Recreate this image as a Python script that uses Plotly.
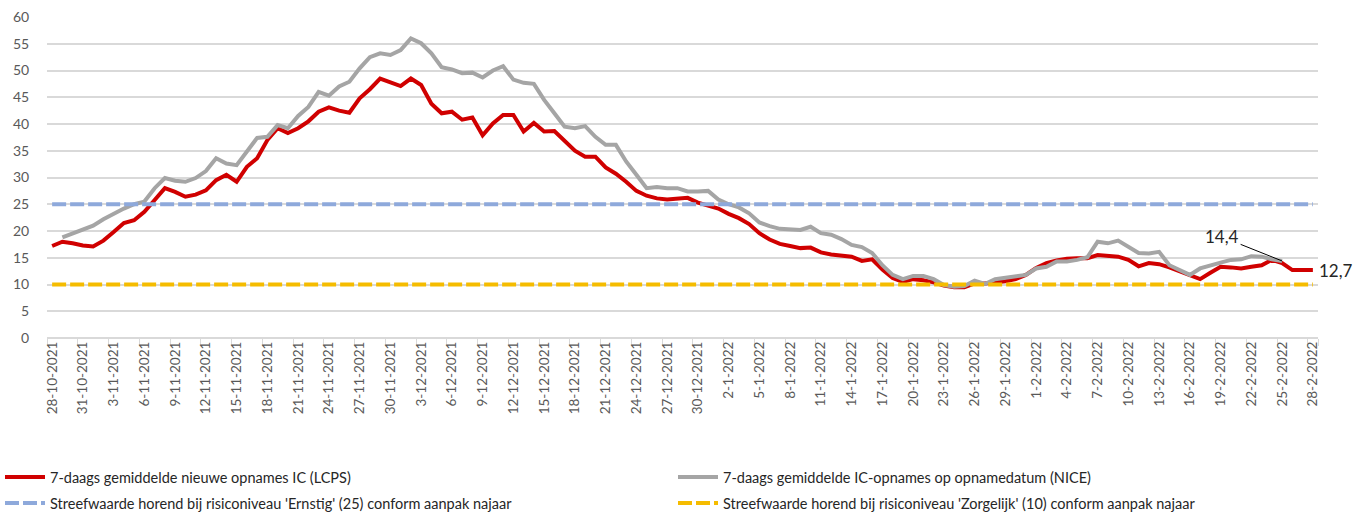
import datetime
import plotly.graph_objects as go

# ---- data ----
start = datetime.date(2021, 10, 28)
categories = [f"{d.day}-{d.month}-{d.year}" for d in
              (start + datetime.timedelta(days=i) for i in range(124))]
tick_labels = categories[::3]

lcps = [17.2, 18.0, 17.7, 17.3, 17.1, 18.2, 19.8, 21.5, 22.0, 23.6,
        25.8, 28.0, 27.3, 26.4, 26.8, 27.6, 29.5, 30.5, 29.2, 32.0,
        33.6, 37.0, 39.2, 38.3, 39.2, 40.5, 42.3, 43.1, 42.5, 42.1,
        44.8, 46.5, 48.5, 47.8, 47.1, 48.5, 47.3, 43.8, 42.0, 42.3,
        40.8, 41.2, 37.9, 40.1, 41.7, 41.7, 38.6, 40.2, 38.6, 38.7,
        36.8, 35.0, 33.9, 33.9, 31.9, 30.7, 29.2, 27.5, 26.6, 26.1,
        25.9, 26.0, 26.2, 25.3, 24.8, 24.2, 23.2, 22.4, 21.3, 19.6,
        18.4, 17.6, 17.2, 16.8, 16.9, 16.0, 15.6, 15.4, 15.2, 14.4,
        14.7, 12.8, 11.2, 10.5, 11.0, 10.8, 10.4, 9.8, 9.5, 9.5,
        10.2, 10.2, 10.4, 10.6, 11.0, 11.8, 13.1, 14.0, 14.5, 14.8,
        14.9, 14.9, 15.5, 15.4, 15.2, 14.6, 13.4, 14.0, 13.8, 13.2,
        12.4, 11.6, 11.0, 12.2, 13.3, 13.2, 13.0, 13.3, 13.6, 14.6,
        14.0, 12.7, 12.7, 12.7]

nice = [None, 18.8, 19.5, 20.3, 21.0, 22.2, 23.3, 24.2, 25.0, 25.5,
        28.0, 29.9, 29.4, 29.2, 29.9, 31.2, 33.6, 32.6, 32.3, 34.8,
        37.4, 37.6, 39.8, 39.2, 41.5, 43.2, 46.0, 45.3, 47.0, 47.9,
        50.4, 52.5, 53.2, 52.9, 53.8, 56.0, 55.1, 53.2, 50.6, 50.2,
        49.5, 49.6, 48.7, 50.0, 50.8, 48.3, 47.7, 47.5, 44.5, 42.0,
        39.5, 39.2, 39.6, 37.6, 36.1, 36.1, 33.0, 30.5, 28.0, 28.2,
        28.0, 28.0, 27.4, 27.4, 27.5, 25.9, 25.0, 24.4, 23.3, 21.6,
        20.9, 20.4, 20.3, 20.2, 20.8, 19.6, 19.3, 18.5, 17.4, 17.0,
        15.9, 13.6, 11.8, 11.0, 11.6, 11.6, 11.0, 9.9, 9.6, 9.7,
        10.7, 10.1, 11.0, 11.3, 11.6, 11.8, 13.0, 13.3, 14.3, 14.3,
        14.6, 15.1, 18.0, 17.7, 18.2, 17.1, 15.9, 15.8, 16.1, 13.6,
        12.6, 11.8, 13.0, 13.6, 14.1, 14.6, 14.7, 15.3, 15.2, 14.7,
        14.4, None, None, None]

ernstig = [25] * len(categories)
zorgelijk = [10] * len(categories)

names = ["7-daags gemiddelde nieuwe opnames IC (LCPS)",
         "7-daags gemiddelde IC-opnames op opnamedatum (NICE)",
         "Streefwaarde horend bij risiconiveau 'Ernstig' (25) conform aanpak najaar",
         "Streefwaarde horend bij risiconiveau 'Zorgelijk' (10) conform aanpak najaar"]

FONT = "Lato, 'Open Sans', sans-serif"
W, H = 1356, 513

fig = go.Figure()
fig.add_trace(go.Scatter(x=categories, y=lcps, name=names[0], mode="lines",
                         line=dict(color="#D00000", width=4), legend="legend"))
fig.add_trace(go.Scatter(x=categories, y=nice, name=names[1], mode="lines",
                         line=dict(color="#A5A5A5", width=4), legend="legend2"))
fig.add_trace(go.Scatter(x=categories, y=ernstig, name=names[2], mode="lines",
                         line=dict(color="#8EA9DB", width=4, dash="14px,4px"),
                         legend="legend3"))
fig.add_trace(go.Scatter(x=categories, y=zorgelijk, name=names[3], mode="lines",
                         line=dict(color="#F5BC00", width=4, dash="14px,4px"),
                         legend="legend4"))

fig.add_annotation(x=categories[120], y=nice[120], text="14,4", showarrow=True,
                   ax=-60, ay=-24, arrowhead=0, arrowwidth=1, arrowcolor="#000000",
                   font=dict(size=17, color="#262626", family=FONT))
fig.add_annotation(x=categories[-1], y=lcps[-1], text="12,7", showarrow=False,
                   xanchor="left", xshift=4,
                   font=dict(size=17, color="#262626", family=FONT))


def leg(xpx, ypx):
    return dict(orientation="h", xref="container", yref="container",
                x=xpx / W, y=(H - ypx) / H, xanchor="left", yanchor="middle",
                font=dict(size=14.5, color="#262626", family=FONT),
                bgcolor="rgba(0,0,0,0)", itemwidth=40)


fig.update_layout(
    width=W, height=H,
    margin=dict(l=47, r=38, t=17, b=175, autoexpand=False),
    paper_bgcolor="white", plot_bgcolor="white",
    font=dict(family=FONT, color="#595959"),
    showlegend=True,
    legend=leg(-4, 477),
    legend2=leg(673, 477),
    legend3=leg(-4, 503),
    legend4=leg(673, 503),
    xaxis=dict(type="category", range=[-0.5, len(categories) - 0.5],
               tickmode="array", tickvals=tick_labels, ticktext=tick_labels,
               tickangle=-90, tickson="boundaries", ticks="outside",
               ticklen=7, tickcolor="#D9D9D9", showgrid=False,
               showline=False, zeroline=False, automargin=False,
               tickfont=dict(size=13.5, color="#595959", family=FONT)),
    yaxis=dict(range=[0, 60], dtick=5, showgrid=True, gridcolor="#D9D9D9",
               gridwidth=1.5, zeroline=True, zerolinecolor="#D9D9D9",
               zerolinewidth=1.5, ticks="outside", ticklen=14,
               tickcolor="rgba(0,0,0,0)", automargin=False,
               tickfont=dict(size=14, color="#595959", family=FONT)),
)

fig.write_html("out.html",
               config={"displayModeBar": False},
               post_script="document.body.style.margin='0px';"
                           "document.body.style.overflow='hidden';")
